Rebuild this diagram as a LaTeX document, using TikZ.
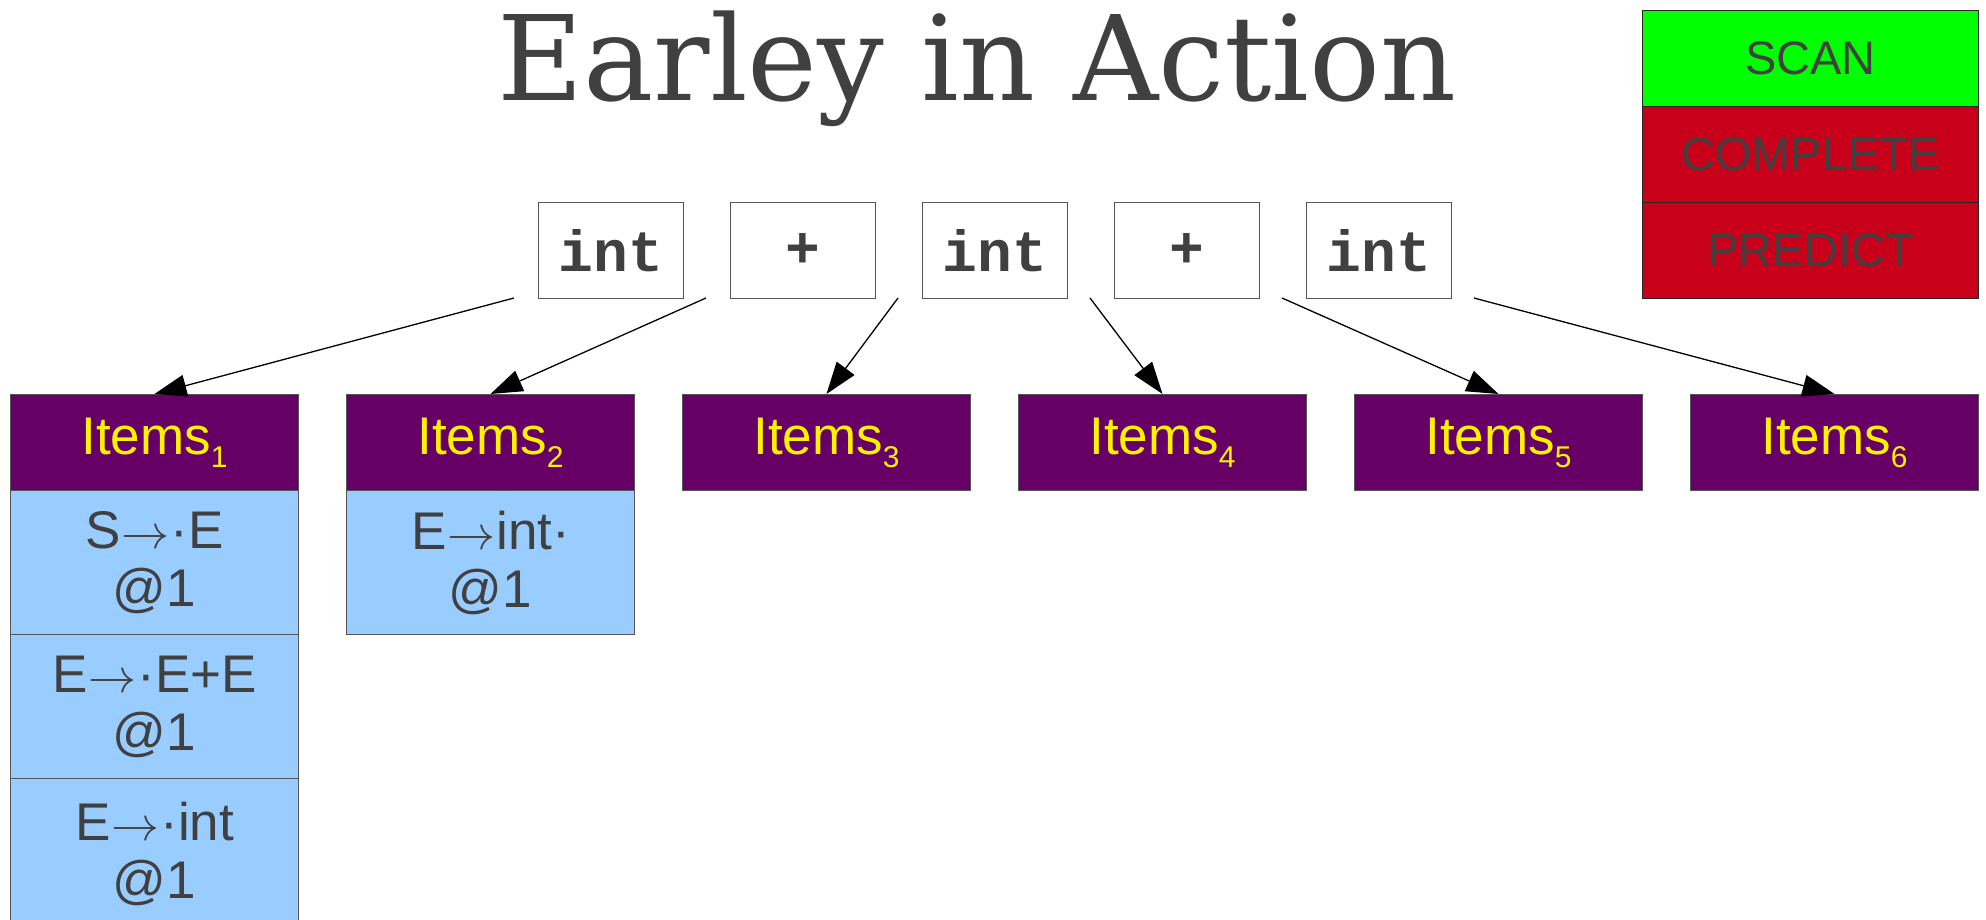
\documentclass[tikz,border=0pt]{standalone}
\usepackage{fontspec}
\usepackage{graphicx}
\setmainfont{Liberation Sans}
\newfontfamily\titlefont{DejaVu Serif}
\newfontfamily\tokfont{Liberation Mono}
\usetikzlibrary{arrows.meta}
\definecolor{txt}{HTML}{404040}
\definecolor{hdrc}{HTML}{660066}
\definecolor{itemc}{HTML}{99CCFF}
\definecolor{scanc}{HTML}{00FF00}
\definecolor{redc}{HTML}{C8001A}
\definecolor{edge}{HTML}{555555}
\newcommand{\sbs}[1]{\raisebox{-13pt}{\fontsize{30}{30}\selectfont #1}}
\newcommand{\arw}{\kern1pt\resizebox{48pt}{!}{$\rightarrow$}\kern1pt}
\begin{document}
\begin{tikzpicture}[x=1pt,y=-1pt,
  tok/.style={draw=edge, line width=1pt, minimum width=145pt, minimum height=96pt,
    inner sep=0pt, anchor=north west, text=txt,
    font=\tokfont\bfseries\fontsize{58}{58}\selectfont},
  hdr/.style={draw=edge, fill=hdrc, line width=1pt, minimum width=288pt, minimum height=96pt,
    inner sep=0pt, anchor=north west, text=yellow, font=\fontsize{53}{58}\selectfont},
  itembox/.style={draw=edge, fill=itemc, line width=1pt, minimum width=288pt, minimum height=144pt,
    inner sep=0pt, anchor=north west, text=txt, align=center, font=\fontsize{53}{58}\selectfont},
  leg/.style={draw=black!85, line width=1.2pt, minimum width=336pt, minimum height=96pt,
    inner sep=0pt, anchor=north west, text=txt, font=\fontsize{47}{47}\selectfont},
  arr/.style={-{Triangle[length=32pt,width=22pt]}, line width=1.3pt, black}
]
\useasboundingbox (0,0) rectangle (1986,920);
% title
\node[anchor=base, text=txt, font=\titlefont\fontsize{118}{118}\selectfont, inner sep=0pt] (title) at (977,101) {Earley in Action};
% legend
\node[leg, fill=scanc] (scan) at (1642,10) {SCAN};
\node[leg, fill=redc] (complete) at (1642,106) {COMPLETE};
\node[leg, fill=redc] (predict) at (1642,202) {PREDICT};
% tokens
\node[tok] (t1) at (538,202) {int};
\node[tok] (t2) at (730,202) {+};
\node[tok] (t3) at (922,202) {int};
\node[tok] (t4) at (1114,202) {+};
\node[tok] (t5) at (1306,202) {int};
% arrow starts
\coordinate (s0) at (514,298);
\coordinate (s1) at (706,298);
\coordinate (s2) at (898,298);
\coordinate (s3) at (1090,298);
\coordinate (s4) at (1282,298);
\coordinate (s5) at (1474,298);
% headers
\node[hdr] (h1) at (10,394) {Items\sbs{1}};
\node[hdr] (h2) at (346,394) {Items\sbs{2}};
\node[hdr] (h3) at (682,394) {Items\sbs{3}};
\node[hdr] (h4) at (1018,394) {Items\sbs{4}};
\node[hdr] (h5) at (1354,394) {Items\sbs{5}};
\node[hdr] (h6) at (1690,394) {Items\sbs{6}};
% items
\node[itembox] (i11) at (10,490) {S\arw·E\\@1};
\node[itembox] (i12) at (10,634) {E\arw·E+E\\@1};
\node[itembox, minimum height=150pt] (i13) at (10,778) {E\arw·int\\@1};
\node[itembox] (i21) at (346,490) {E\arw int·\\@1};
% arrows
\draw[arr] (s0) -- (h1.north);
\draw[arr] (s1) -- (h2.north);
\draw[arr] (s2) -- (h3.north);
\draw[arr] (s3) -- (h4.north);
\draw[arr] (s4) -- (h5.north);
\draw[arr] (s5) -- (h6.north);
\end{tikzpicture}
\end{document}
